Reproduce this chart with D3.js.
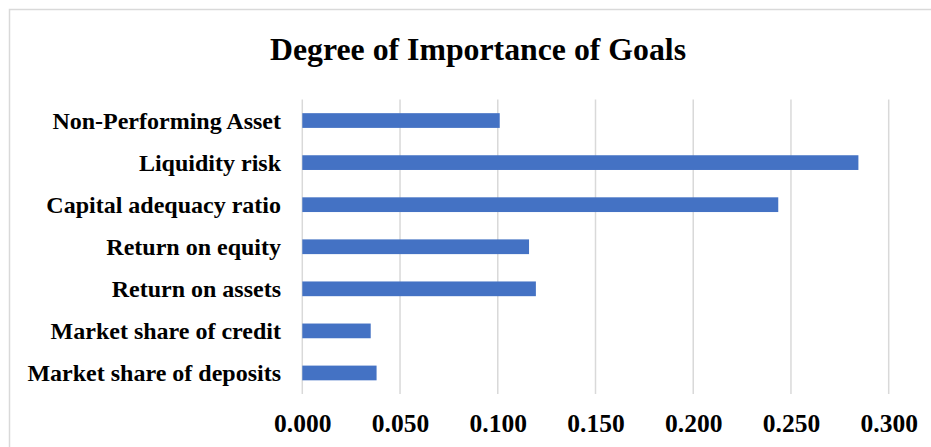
<!DOCTYPE html>
<html>
<head>
<meta charset="utf-8">
<script src="https://cdn.jsdelivr.net/npm/d3@7"></script>
<style>
  html, body { margin: 0; padding: 0; background: #fff; overflow: hidden; }
  svg { display: block; }
  text { font-family: "Liberation Serif", "Times New Roman", serif; font-weight: bold; fill: #000; }
</style>
</head>
<body>
<svg id="chart" width="931" height="447"></svg>
<script>
// Goals, listed top to bottom as they appear on the axis
const categories = [
  "Non-Performing Asset",
  "Liquidity risk",
  "Capital adequacy ratio",
  "Return on equity",
  "Return on assets",
  "Market share of credit",
  "Market share of deposits"
];
// Degree of importance for each goal
const importance = [0.101, 0.2845, 0.2435, 0.116, 0.1195, 0.035, 0.038];
// Value axis ticks
const tickValues = [0, 0.05, 0.10, 0.15, 0.20, 0.25, 0.30];
const chartTitle = "Degree of Importance of Goals";

const svg = d3.select("#chart");
const W = 931, H = 447;
const plot = { left: 302.3, right: 888.7, top: 99.5, bottom: 394 };

// Chart frame (runs off the right and bottom edges)
svg.append("rect")
  .attr("x", 9.5).attr("y", 9.5)
  .attr("width", W + 20).attr("height", H + 20)
  .attr("fill", "#fff")
  .attr("stroke", "#d9d9d9").attr("stroke-width", 1.5);

const x = d3.scaleLinear().domain([0, 0.3]).range([plot.left, plot.right]);
const y = d3.scaleBand().domain(categories).range([plot.top, plot.bottom]).paddingInner(0.65).paddingOuter(0.325);

// Vertical gridlines
svg.append("g")
  .selectAll("line")
  .data(tickValues)
  .join("line")
  .attr("x1", d => x(d)).attr("x2", d => x(d))
  .attr("y1", plot.top).attr("y2", plot.bottom)
  .attr("stroke", "#d9d9d9").attr("stroke-width", 1.5);

// Bars
svg.append("g")
  .selectAll("rect")
  .data(categories)
  .join("rect")
  .attr("x", x(0))
  .attr("y", d => y(d))
  .attr("width", (d, i) => x(importance[i]) - x(0))
  .attr("height", y.bandwidth())
  .attr("fill", "#4472c4");

// Value axis labels
const xAxis = d3.axisBottom(x).tickValues(tickValues).tickFormat(d3.format(".3f")).tickSize(0).tickPadding(0);
const gx = svg.append("g").attr("transform", `translate(0,${plot.bottom})`).call(xAxis);
gx.select(".domain").remove();
gx.selectAll("text")
  .attr("dy", null).attr("y", 37.5)
  .attr("font-size", 25.5).attr("font-family", null).attr("fill", null);

// Category labels
const yAxis = d3.axisLeft(y).tickSize(0).tickPadding(0);
const gy = svg.append("g").attr("transform", `translate(281,0)`).call(yAxis);
gy.select(".domain").remove();
gy.selectAll("text")
  .attr("dy", "0.35em")
  .attr("font-size", 24).attr("font-family", null).attr("fill", null);

// Title
svg.append("text")
  .attr("x", 478).attr("y", 60)
  .attr("text-anchor", "middle")
  .attr("font-size", 32)
  .attr("textLength", 416).attr("lengthAdjust", "spacingAndGlyphs")
  .text(chartTitle);
</script>
</body>
</html>
